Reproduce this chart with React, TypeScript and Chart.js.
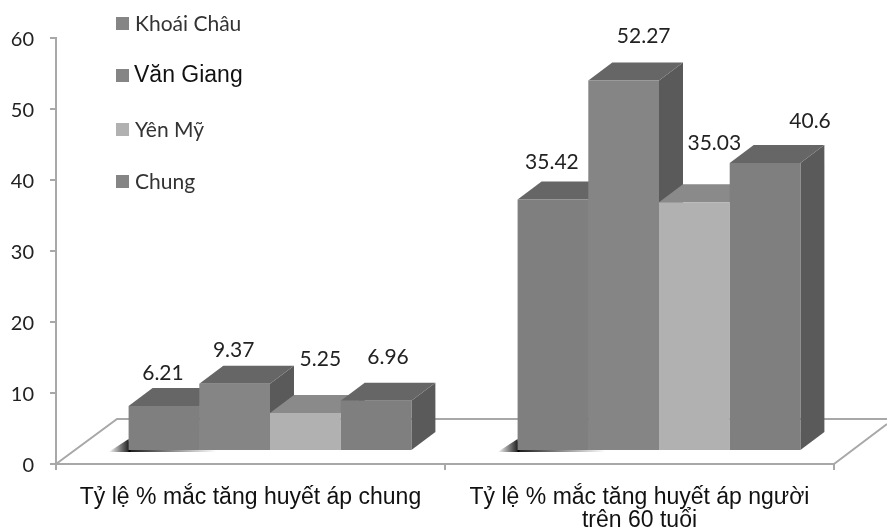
import React, { useEffect, useRef } from "react";
import { Chart, registerables } from "chart.js";

Chart.register(...registerables);

const categories = [
  "Tỷ lệ % mắc tăng huyết áp chung",
  ["Tỷ lệ % mắc tăng huyết áp người", "trên 60 tuổi"],
];
const seriesNames = ["Khoái Châu", "Văn Giang", "Yên Mỹ", "Chung"];
const khoaiChau = [6.21, 35.42];
const vanGiang = [9.37, 52.27];
const yenMy = [5.25, 35.03];
const chung = [6.96, 40.6];

const frontColors = ["#7f7f7f", "#858585", "#b1b1b1", "#7f7f7f"];
const topColors = ["#666666", "#666666", "#8a8a8a", "#666666"];
const sideColors = ["#5a5a5a", "#5a5a5a", "#777777", "#5a5a5a"];

// Extrusion of the pseudo-3D bars and the shift of the bars onto the floor.
const DEPTH_X = 24;
const DEPTH_Y = 18;
const BAR_SHIFT = 19.5;
const AXIS_COLOR = "#a8a8a8";
const NUMBER_FONT = '21px Lato, "Open Sans", sans-serif';

// Value labels sit clear of the extruded tops: [dx, dy] per series and group.
const labelOffsets = [
  [[-1, -33], [-1, -37]],
  [[-1, -34], [20, -44]],
  [[15, -54], [20, -59]],
  [[12, -44], [45, -42]],
];

const legendRows = [
  { y: 24, font: '21px Lato, "Open Sans", sans-serif', color: "#333333", x: 135 },
  { y: 76, font: '23px "Liberation Sans", Arial, sans-serif', color: "#111111", x: 134 },
  { y: 130, font: '21px Lato, "Open Sans", sans-serif', color: "#333333", x: 135 },
  { y: 182, font: '21px Lato, "Open Sans", sans-serif', color: "#333333", x: 135 },
];

const bars3d = {
  id: "bars3d",
  beforeDatasetsDraw(chart: any) {
    const { ctx, chartArea } = chart;
    const { left, right, bottom } = chartArea;

    // Floor outline behind the bars.
    const backY = bottom - 45;
    ctx.save();
    ctx.strokeStyle = AXIS_COLOR;
    ctx.lineWidth = 2;
    ctx.beginPath();
    ctx.moveTo(left, bottom);
    ctx.lineTo(left + 61, backY);
    ctx.lineTo(chart.width, backY);
    ctx.moveTo(right, bottom);
    ctx.lineTo(chart.width, bottom - 40);
    ctx.stroke();

    ctx.translate(BAR_SHIFT, 0);

    // Soft contact shadow at the left foot of each group.
    chart.getDatasetMeta(0).data.forEach((bar: any) => {
      const x0 = bar.x - bar.width / 2;
      const base = bar.base;
      const fadeIn = ctx.createLinearGradient(x0 - 20, 0, x0 + 2, 0);
      fadeIn.addColorStop(0, "rgba(0,0,0,0)");
      fadeIn.addColorStop(1, "rgba(0,0,0,0.95)");
      ctx.fillStyle = fadeIn;
      ctx.beginPath();
      ctx.moveTo(x0 - 20, base + 2);
      ctx.lineTo(x0, base - 11);
      ctx.lineTo(x0 + 2, base + 2);
      ctx.closePath();
      ctx.fill();
      const fadeOut = ctx.createLinearGradient(x0, 0, x0 + 88, 0);
      fadeOut.addColorStop(0, "rgba(0,0,0,0.9)");
      fadeOut.addColorStop(1, "rgba(0,0,0,0)");
      ctx.fillStyle = fadeOut;
      ctx.fillRect(x0, base, 88, 2);
    });

    // Top and side faces, left to right so later faces overlap earlier ones.
    const groups = chart.data.labels.length;
    const sets = chart.data.datasets.length;
    for (let g = 0; g < groups; g++) {
      for (let s = 0; s < sets; s++) {
        const bar = chart.getDatasetMeta(s).data[g];
        const x0 = bar.x - bar.width / 2;
        const x1 = bar.x + bar.width / 2;
        ctx.fillStyle = sideColors[s];
        ctx.beginPath();
        ctx.moveTo(x1, bar.y);
        ctx.lineTo(x1 + DEPTH_X, bar.y - DEPTH_Y);
        ctx.lineTo(x1 + DEPTH_X, bar.base - DEPTH_Y);
        ctx.lineTo(x1, bar.base);
        ctx.closePath();
        ctx.fill();
        ctx.fillStyle = topColors[s];
        ctx.beginPath();
        ctx.moveTo(x0, bar.y);
        ctx.lineTo(x0 + DEPTH_X, bar.y - DEPTH_Y);
        ctx.lineTo(x1 + DEPTH_X, bar.y - DEPTH_Y);
        ctx.lineTo(x1, bar.y);
        ctx.closePath();
        ctx.fill();
      }
    }
  },
  afterDatasetsDraw(chart: any) {
    const { ctx } = chart;
    ctx.restore();

    // Value labels.
    ctx.save();
    ctx.font = NUMBER_FONT;
    ctx.fillStyle = "#222222";
    ctx.textAlign = "center";
    ctx.textBaseline = "middle";
    chart.data.datasets.forEach((ds: any, s: number) => {
      chart.getDatasetMeta(s).data.forEach((bar: any, g: number) => {
        const [dx, dy] = labelOffsets[s][g];
        ctx.fillText(String(ds.data[g]), bar.x + BAR_SHIFT + dx, bar.y + dy);
      });
    });

    // Legend column, one swatch and name per series.
    ctx.textAlign = "left";
    chart.data.datasets.forEach((ds: any, s: number) => {
      const row = legendRows[s];
      ctx.fillStyle = s === 2 ? "#b1b1b1" : "#858585";
      ctx.fillRect(116, row.y - 7, 13, 13);
      ctx.fillStyle = row.color;
      ctx.font = row.font;
      ctx.fillText(ds.label, row.x, row.y);
    });
    ctx.restore();
  },
};

export default function App() {
  const ref = useRef<HTMLCanvasElement>(null);

  useEffect(() => {
    const series = [khoaiChau, vanGiang, yenMy, chung];
    const chart = new Chart(ref.current!, {
      type: "bar",
      data: {
        labels: categories as any,
        datasets: series.map((data, i) => ({
          label: seriesNames[i],
          data,
          yAxisID: "barValue",
          backgroundColor: frontColors[i],
          borderWidth: 0,
          barPercentage: 1,
          categoryPercentage: 0.727,
          clip: false as any,
        })),
      },
      options: {
        animation: false,
        responsive: false,
        layout: { padding: { top: 38, right: 53, left: 0, bottom: 0 } },
        plugins: { legend: { display: false }, tooltip: { enabled: false } },
        scales: {
          x: {
            grid: { offset: true, drawOnChartArea: false, color: AXIS_COLOR, lineWidth: 2, tickLength: 6 },
            border: { color: AXIS_COLOR, width: 2 },
            ticks: {
              color: "#111111",
              font: { family: '"Liberation Sans", Arial, sans-serif', size: 23, lineHeight: 1 },
              padding: 16,
              maxRotation: 0,
              autoSkip: false,
            },
            afterFit(scale: any) {
              scale.height = 64;
            },
          },
          y: {
            min: 0,
            max: 60,
            grid: { drawOnChartArea: false, color: AXIS_COLOR, lineWidth: 2, tickLength: 6 },
            border: { color: AXIS_COLOR, width: 2 },
            ticks: {
              stepSize: 10,
              color: "#222222",
              font: { family: 'Lato, "Open Sans", sans-serif', size: 20 },
              padding: 16,
              labelOffset: 2,
            },
            afterFit(scale: any) {
              scale.width = 56;
            },
          },
          // Bars stand on the raised floor, so their value scale starts below zero.
          barValue: {
            display: false,
            min: -1.98,
            max: 58.27,
          },
        },
      },
      plugins: [bars3d],
    } as any);
    return () => chart.destroy();
  }, []);

  return (
    <div style={{ position: "absolute", left: 0, top: 0, width: 887, height: 528, background: "#ffffff" }}>
      <canvas ref={ref} width={887} height={528} style={{ display: "block" }} />
    </div>
  );
}
